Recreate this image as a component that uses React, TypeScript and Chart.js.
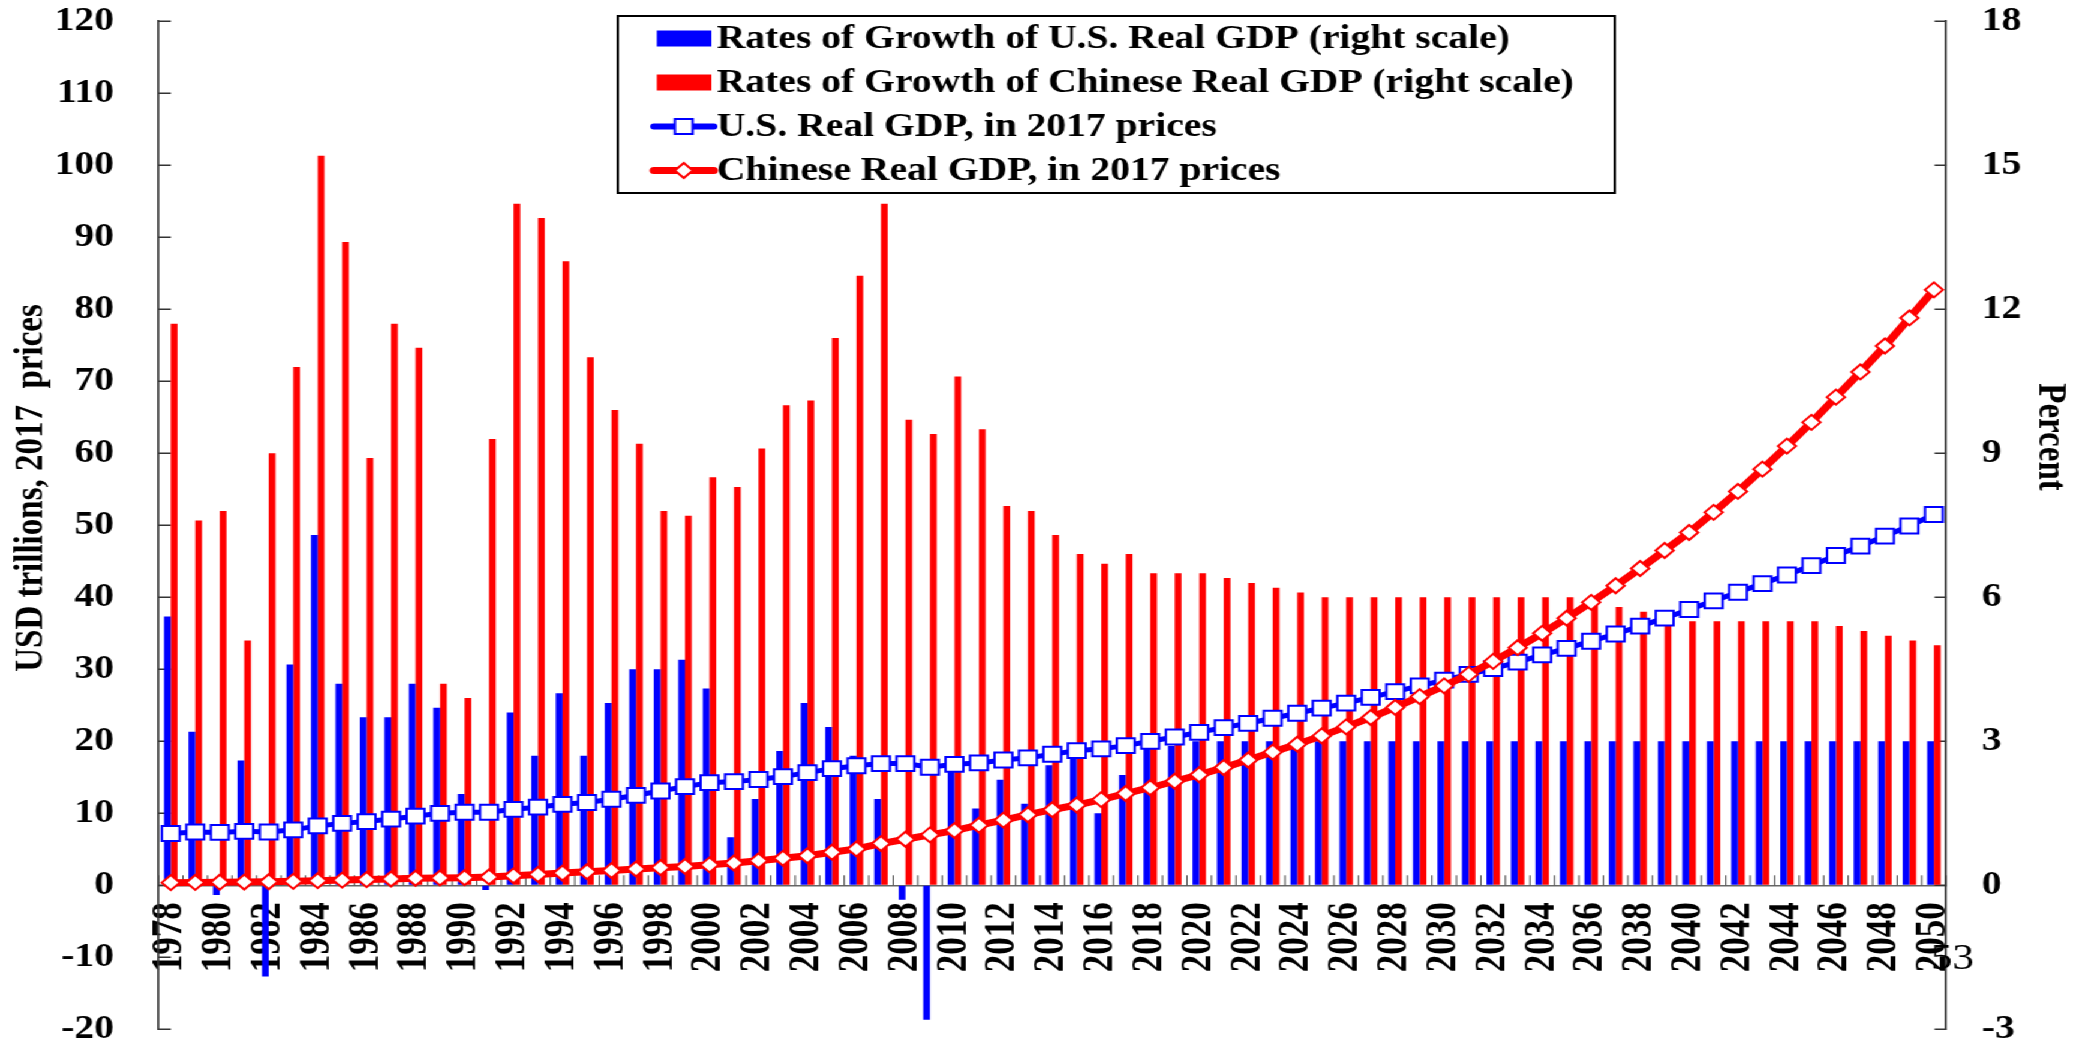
import React, { useEffect, useRef } from 'react';
import { Chart, registerables } from 'chart.js';

Chart.register(...registerables);

const years = [
  '1978', '1979', '1980', '1981', '1982', '1983', '1984', '1985', '1986', '1987',
  '1988', '1989', '1990', '1991', '1992', '1993', '1994', '1995', '1996', '1997',
  '1998', '1999', '2000', '2001', '2002', '2003', '2004', '2005', '2006', '2007',
  '2008', '2009', '2010', '2011', '2012', '2013', '2014', '2015', '2016', '2017',
  '2018', '2019', '2020', '2021', '2022', '2023', '2024', '2025', '2026', '2027',
  '2028', '2029', '2030', '2031', '2032', '2033', '2034', '2035', '2036', '2037',
  '2038', '2039', '2040', '2041', '2042', '2043', '2044', '2045', '2046', '2047',
  '2048', '2049', '2050',
];

// Rates of growth (percent, right scale)
const usGrowth = [
  5.6, 3.2, -0.2, 2.6, -1.9, 4.6, 7.3, 4.2, 3.5, 3.5,
  4.2, 3.7, 1.9, -0.1, 3.6, 2.7, 4.0, 2.7, 3.8, 4.5,
  4.5, 4.7, 4.1, 1.0, 1.8, 2.8, 3.8, 3.3, 2.7, 1.8,
  -0.3, -2.8, 2.5, 1.6, 2.2, 1.7, 2.5, 2.9, 1.5, 2.3,
  2.9, 2.9, 3.0, 3.0, 3.0, 3.0, 3.0, 3.0, 3.0, 3.0,
  3.0, 3.0, 3.0, 3.0, 3.0, 3.0, 3.0, 3.0, 3.0, 3.0,
  3.0, 3.0, 3.0, 3.0, 3.0, 3.0, 3.0, 3.0, 3.0, 3.0,
  3.0, 3.0, 3.0,
];

const chinaGrowth = [
  11.7, 7.6, 7.8, 5.1, 9.0, 10.8, 15.2, 13.4, 8.9, 11.7,
  11.2, 4.2, 3.9, 9.3, 14.2, 13.9, 13.0, 11.0, 9.9, 9.2,
  7.8, 7.7, 8.5, 8.3, 9.1, 10.0, 10.1, 11.4, 12.7, 14.2,
  9.7, 9.4, 10.6, 9.5, 7.9, 7.8, 7.3, 6.9, 6.7, 6.9,
  6.5, 6.5, 6.5, 6.4, 6.3, 6.2, 6.1, 6.0, 6.0, 6.0,
  6.0, 6.0, 6.0, 6.0, 6.0, 6.0, 6.0, 6.0, 5.9, 5.8,
  5.7, 5.6, 5.5, 5.5, 5.5, 5.5, 5.5, 5.5, 5.4, 5.3,
  5.2, 5.1, 5.0,
];

// Real GDP, USD trillions in 2017 prices (left scale)
const usGdp = [
  7.2, 7.4, 7.35, 7.5, 7.4, 7.7, 8.25, 8.6, 8.85, 9.2,
  9.6, 10.0, 10.15, 10.15, 10.55, 10.85, 11.25, 11.5, 11.95, 12.5,
  13.1, 13.7, 14.25, 14.4, 14.7, 15.1, 15.65, 16.2, 16.6, 16.9,
  16.9, 16.4, 16.8, 17.0, 17.4, 17.7, 18.2, 18.7, 18.95, 19.4,
  20.0, 20.6, 21.25, 21.9, 22.5, 23.2, 23.9, 24.6, 25.3, 26.1,
  26.9, 27.7, 28.5, 29.3, 30.1, 31.0, 32.0, 32.9, 33.9, 34.9,
  36.0, 37.1, 38.3, 39.5, 40.7, 41.9, 43.1, 44.4, 45.8, 47.1,
  48.5, 49.9, 51.5,
];

const chinaGdp = [
  0.37, 0.4, 0.43, 0.45, 0.49, 0.55, 0.64, 0.72, 0.79, 0.88,
  0.98, 1.02, 1.06, 1.16, 1.32, 1.51, 1.7, 1.89, 2.05, 2.26,
  2.45, 2.62, 2.84, 3.1, 3.4, 3.75, 4.1, 4.6, 5.05, 5.8,
  6.4, 7.0, 7.6, 8.35, 9.05, 9.8, 10.5, 11.15, 11.9, 12.75,
  13.55, 14.45, 15.35, 16.35, 17.4, 18.5, 19.6, 20.75, 22.0, 23.3,
  24.7, 26.2, 27.7, 29.3, 31.1, 33.0, 35.0, 37.1, 39.3, 41.6,
  44.0, 46.5, 49.0, 51.8, 54.7, 57.8, 61.0, 64.3, 67.8, 71.3,
  74.9, 78.8, 82.7,
];

const legendLabels = [
  'Rates of Growth of U.S. Real GDP (right scale)',
  'Rates of Growth of Chinese Real GDP (right scale)',
  'U.S. Real GDP, in 2017 prices',
  'Chinese Real GDP, in 2017 prices',
];

const leftAxisTitle = 'USD trillions, 2017  prices';
const rightAxisTitle = 'Percent';
const pageNumber = '53';

const leftMin = -20;
const leftMax = 120;
const leftStep = 10;
const rightMin = -3;
const rightMax = 18;
const rightStep = 3;

const BLUE = '#0000FF';
const RED = '#FF0000';
const FONT = '"Liberation Serif", "Times New Roman", Times, serif';

const PAGE_W = 2073;
const CW = 1728;
const CH = 1043;
const SX = PAGE_W / CW;

const PLOT_LEFT = 132.1;
const PLOT_RIGHT = 1622.3;

const decorPlugin = {
  id: 'decor',
  beforeDatasetsDraw(chart: any) {
    const ctx = chart.ctx;
    const xs = chart.scales.x;
    const ys = chart.scales.y;
    const y1s = chart.scales.y1;
    const { left, right } = chart.chartArea;
    ctx.save();
    ctx.strokeStyle = '#333';
    ctx.lineWidth = 1.5;
    ctx.beginPath();
    ys.ticks.forEach((t: any) => {
      const py = ys.getPixelForValue(t.value);
      ctx.moveTo(left, py);
      ctx.lineTo(left + 10.3, py);
    });
    y1s.ticks.forEach((t: any) => {
      const py = y1s.getPixelForValue(t.value);
      ctx.moveTo(right - 9.7, py);
      ctx.lineTo(right, py);
    });
    ctx.stroke();
    const y0 = ys.getPixelForValue(0);
    ctx.lineWidth = 1;
    ctx.strokeStyle = '#444';
    ctx.beginPath();
    for (let i = 0; i <= years.length; i++) {
      const px = xs.getPixelForValue(i - 0.5);
      ctx.moveTo(px, y0);
      ctx.lineTo(px, y0 - 10);
    }
    ctx.stroke();
    ctx.restore();
  },
  afterDraw(chart: any) {
    const ctx = chart.ctx;
    ctx.save();
    ctx.fillStyle = '#000';
    ctx.font = `bold 33px ${FONT}`;
    ctx.textAlign = 'center';
    ctx.textBaseline = 'middle';
    // left axis title
    ctx.save();
    ctx.translate(26.7, 488);
    ctx.rotate(-Math.PI / 2);
    ctx.fillText(leftAxisTitle, 0, 0);
    ctx.restore();
    // right axis title
    ctx.save();
    ctx.translate(1709, 437);
    ctx.rotate(Math.PI / 2);
    ctx.fillText(rightAxisTitle, 0, 0);
    ctx.restore();

    // legend
    const bx = 515;
    const by = 16;
    const bw = 831;
    const bh = 177;
    ctx.fillStyle = '#fff';
    ctx.fillRect(bx, by, bw, bh);
    ctx.strokeStyle = '#000';
    ctx.lineWidth = 2;
    ctx.strokeRect(bx, by, bw, bh);
    const ds = chart.data.datasets;
    for (let i = 0; i < 4; i++) {
      const cy = 38.5 + 44 * i;
      const d = ds[i];
      if (i < 2) {
        ctx.fillStyle = d.backgroundColor;
        ctx.fillRect(547.5, cy - 8, 45.5, 16);
      } else {
        ctx.strokeStyle = d.borderColor;
        ctx.lineWidth = i === 2 ? 6 : 7;
        ctx.lineCap = 'round';
        ctx.beginPath();
        ctx.moveTo(545, cy);
        ctx.lineTo(595, cy);
        ctx.stroke();
        ctx.lineCap = 'butt';
        ctx.fillStyle = '#fff';
        ctx.lineWidth = 2;
        ctx.beginPath();
        if (i === 2) {
          ctx.rect(570 - 7.4, cy - 7.4, 14.8, 14.8);
        } else {
          ctx.moveTo(570 - 7.5, cy);
          ctx.lineTo(570, cy - 7.5);
          ctx.lineTo(570 + 7.5, cy);
          ctx.lineTo(570, cy + 7.5);
          ctx.closePath();
        }
        ctx.fill();
        ctx.stroke();
      }
      ctx.fillStyle = '#000';
      ctx.textAlign = 'left';
      ctx.textBaseline = 'middle';
      ctx.font = `bold 33px ${FONT}`;
      ctx.fillText(legendLabels[i], 597.5, cy + 1);
    }

    // page number
    ctx.font = `36px ${FONT}`;
    ctx.textAlign = 'center';
    ctx.textBaseline = 'middle';
    ctx.fillStyle = '#000';
    ctx.fillText(pageNumber, 1627.5, 960);
    ctx.restore();
  },
};

export default function App() {
  const canvasRef = useRef<HTMLCanvasElement | null>(null);

  useEffect(() => {
    document.documentElement.style.overflow = 'hidden';
    document.body.style.overflow = 'hidden';
    const canvas = canvasRef.current;
    if (!canvas) return;
    const tickFont = { family: FONT, size: 33, weight: 'bold' as const, lineHeight: 0.8 };
    const xTickFont = { family: FONT, size: 35, weight: 'bold' as const, lineHeight: 0.8 };
    const chart = new Chart(canvas, {
      type: 'bar',
      data: {
        labels: years,
        datasets: [
          {
            type: 'bar',
            label: legendLabels[0],
            data: usGrowth,
            backgroundColor: BLUE,
            borderWidth: 0,
            yAxisID: 'y1',
            categoryPercentage: 0.55,
            barPercentage: 1,
            order: 2,
          },
          {
            type: 'bar',
            label: legendLabels[1],
            data: chinaGrowth,
            backgroundColor: RED,
            borderWidth: 0,
            yAxisID: 'y1',
            categoryPercentage: 0.55,
            barPercentage: 1,
            order: 3,
          },
          {
            type: 'line',
            label: legendLabels[2],
            data: usGdp,
            borderColor: BLUE,
            borderWidth: 5,
            pointStyle: 'rect',
            pointRadius: 10.5,
            pointBackgroundColor: '#fff',
            pointBorderColor: BLUE,
            pointBorderWidth: 2,
            tension: 0,
            fill: false,
            yAxisID: 'y',
            order: 1,
          },
          {
            type: 'line',
            label: legendLabels[3],
            data: chinaGdp,
            borderColor: RED,
            borderWidth: 7,
            pointStyle: 'rectRot',
            pointRadius: 7.5,
            pointBackgroundColor: '#fff',
            pointBorderColor: RED,
            pointBorderWidth: 2,
            tension: 0,
            fill: false,
            yAxisID: 'y',
            order: 0,
          },
        ] as any,
      },
      options: {
        responsive: false,
        maintainAspectRatio: false,
        animation: false,
        devicePixelRatio: 1,
        layout: { padding: { top: 21.3, bottom: 13.7, left: 0, right: 0 } },
        plugins: {
          legend: { display: false },
          tooltip: { enabled: false },
          title: { display: false },
        },
        scales: {
          x: {
            axis: 'x',
            type: 'category',
            position: { y: 0 } as any,
            offset: true,
            grid: { display: false, drawTicks: false, offset: true },
            border: { display: true, color: '#666', width: 1.5 },
            ticks: {
              autoSkip: false,
              minRotation: 90,
              maxRotation: 90,
              padding: 17,
              color: '#000',
              font: xTickFont,
              callback: (_v: any, i: number) => (i % 2 === 0 ? years[i] : ''),
            },
          },
          y: {
            type: 'linear',
            position: 'left',
            min: leftMin,
            max: leftMax,
            grid: {
              display: true,
              drawOnChartArea: false,
              drawTicks: true,
              tickLength: 37,
              tickColor: 'rgba(0,0,0,0)',
            },
            border: { display: true, color: '#333', width: 1.7 },
            ticks: { stepSize: leftStep, padding: 0, color: '#000', font: tickFont },
            afterFit: (s: any) => {
              s.width = PLOT_LEFT;
            },
          },
          y1: {
            type: 'linear',
            position: 'right',
            min: rightMin,
            max: rightMax,
            grid: {
              display: true,
              drawOnChartArea: false,
              drawTicks: true,
              tickLength: 29.8,
              tickColor: 'rgba(0,0,0,0)',
            },
            border: { display: true, color: '#333', width: 1.7 },
            ticks: { stepSize: rightStep, padding: 0, color: '#000', font: tickFont },
            afterFit: (s: any) => {
              s.width = CW - PLOT_RIGHT;
            },
          },
        },
      } as any,
      plugins: [decorPlugin],
    });
    return () => chart.destroy();
  }, []);

  return (
    <div
      style={{
        position: 'absolute',
        left: 0,
        top: 0,
        width: CW,
        height: CH,
        transform: `scaleX(${SX})`,
        transformOrigin: '0 0',
        background: '#fff',
      }}
    >
      <canvas
        ref={canvasRef}
        width={CW}
        height={CH}
        style={{ width: CW, height: CH, display: 'block' }}
      />
    </div>
  );
}
